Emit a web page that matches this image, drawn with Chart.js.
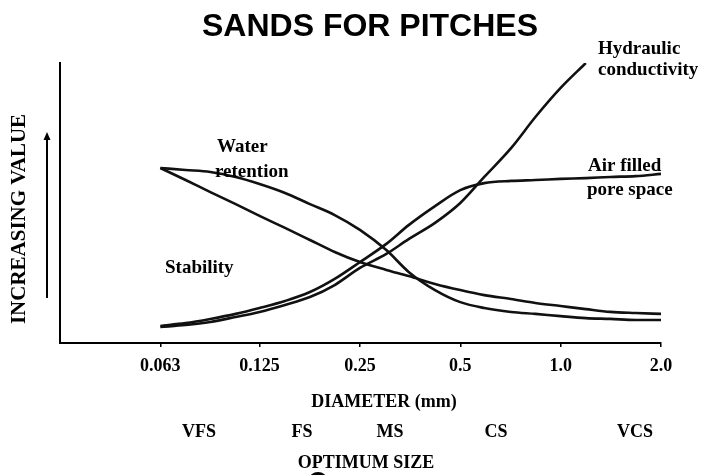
<!DOCTYPE html>
<html>
<head>
<meta charset="utf-8">
<script src="https://cdn.jsdelivr.net/npm/chart.js@4/dist/chart.umd.min.js"></script>
<style>
  body { margin: 0; background: #fff; }
  #wrap { width: 709px; height: 475px; }
</style>
</head>
<body>
<div id="wrap"><canvas id="myChart" width="709" height="475"></canvas></div>
<script>
// sieve diameters (mm), quarter-octave steps
const diameters = [0.063, 0.075, 0.089, 0.106, 0.125, 0.149, 0.177, 0.21, 0.25, 0.30, 0.35,
    0.42, 0.5, 0.59, 0.71, 0.84, 1.0, 1.19, 1.41, 1.68, 2.0];

// relative value (0 = bottom, 100 = top of axis)
const waterRetention = [62.5, 61.8, 61.1, 59.3, 56.8, 53.6, 49.6, 45.7, 40.4, 33.2, 25.4,
    18.9, 14.6, 12.5, 11.1, 10.4, 9.6, 8.9, 8.6, 8.2, 8.2];
const stability = [62.5, 58.2, 53.9, 49.6, 45.4, 41.1, 36.8, 32.5, 28.9, 26.1, 23.9,
    21.1, 18.9, 17.1, 15.7, 14.3, 13.2, 12.1, 11.1, 10.7, 10.4];
const airFilled = [6.1, 7.1, 8.6, 10.4, 12.5, 15.0, 18.2, 22.9, 28.9, 35.4, 42.1,
    48.9, 54.6, 57.1, 57.9, 58.2, 58.6, 58.9, 59.3, 59.6, 60.4];
const hydraulic = [5.7, 6.4, 7.5, 9.3, 11.1, 13.6, 16.4, 20.7, 26.8, 31.8, 37.1,
    42.9, 50.0, 59.3, 69.6, 80.7, 91.1, 100];

const tickValues = [0.063, 0.125, 0.25, 0.5, 1.0, 2.0];
const tickLabels = ['0.063', '0.125', '0.25', '0.5', '1.0', '2.0'];

const sizeClasses = ['VFS', 'FS', 'MS', 'CS', 'VCS'];

const serif = '"Liberation Serif", "DejaVu Serif", serif';

function toPoints(vals) {
    return vals.map((v, i) => ({ x: diameters[i], y: v }));
}

function lineSet(label, vals) {
    return {
        label: label,
        data: toPoints(vals),
        borderColor: '#111',
        borderWidth: 2.6,
        pointRadius: 0,
        fill: false,
        cubicInterpolationMode: 'monotone'
    };
}

// text and decorations around the plot
const annotations = {
    id: 'annotations',
    afterDraw(chart) {
        const ctx = chart.ctx;
        const area = chart.chartArea;
        ctx.save();
        ctx.fillStyle = '#000';
        ctx.strokeStyle = '#000';

        ctx.font = 'bold 32px "Liberation Sans", Arial, sans-serif';
        ctx.textAlign = 'center';
        ctx.textBaseline = 'middle';
        ctx.fillText('SANDS FOR PITCHES', 370, 27);

        // y title
        ctx.save();
        ctx.translate(area.left - 40, 219);
        ctx.rotate(-Math.PI / 2);
        ctx.font = 'bold 21px ' + serif;
        ctx.fillText('INCREASING VALUE', 0, 0);
        ctx.restore();

        // arrow
        ctx.lineWidth = 2;
        ctx.beginPath();
        ctx.moveTo(area.left - 13, 298);
        ctx.lineTo(area.left - 13, 138);
        ctx.stroke();
        ctx.beginPath();
        ctx.moveTo(area.left - 13, 132);
        ctx.lineTo(area.left - 16.5, 140);
        ctx.lineTo(area.left - 9.5, 140);
        ctx.closePath();
        ctx.fill();

        // curve labels
        ctx.font = 'bold 19px ' + serif;
        ctx.textAlign = 'left';
        ctx.textBaseline = 'alphabetic';
        ctx.fillText('Water', 217, 152);
        ctx.fillText('retention', 215, 177);
        ctx.fillText('Stability', 165, 273);
        ctx.fillText('Hydraulic', 598, 54);
        ctx.fillText('conductivity', 598, 75);
        ctx.fillText('Air filled', 588, 171);
        ctx.fillText('pore space', 587, 195);

        // bottom texts
        ctx.font = 'bold 18px ' + serif;
        ctx.textAlign = 'center';
        ctx.textBaseline = 'middle';
        ctx.fillText('DIAMETER (mm)', 384, 402);
        const classX = [199, 302, 390, 496, 635];
        sizeClasses.forEach((c, i) => ctx.fillText(c, classX[i], 432));
        ctx.fillText('OPTIMUM SIZE', 366, 463);

        ctx.beginPath();
        ctx.ellipse(318, 480, 9, 8, 0, 0, Math.PI * 2);
        ctx.fill();
        ctx.restore();
    }
};

const ctx = document.getElementById('myChart').getContext('2d');
const myChart = new Chart(ctx, {
    type: 'line',
    data: {
        datasets: [
            lineSet('Water retention', waterRetention),
            lineSet('Stability', stability),
            lineSet('Air filled pore space', airFilled),
            lineSet('Hydraulic conductivity', hydraulic)
        ]
    },
    options: {
        responsive: false,
        animation: false,
        layout: {
            padding: { left: 60, right: 48, top: 63, bottom: 92 }
        },
        plugins: {
            legend: { display: false },
            title: { display: false },
            tooltip: { enabled: false }
        },
        scales: {
            x: {
                type: 'logarithmic',
                min: 0.0315,
                max: 2.0,
                afterBuildTicks: (scale) => {
                    scale.ticks = tickValues.map(v => ({ value: v }));
                },
                afterFit: (scale) => { scale.height = 40; },
                grid: {
                    display: true,
                    drawOnChartArea: false,
                    drawTicks: true,
                    tickLength: 4,
                    color: '#000',
                    lineWidth: 1.5
                },
                border: { display: true, color: '#000', width: 2 },
                ticks: {
                    autoSkip: false,
                    maxRotation: 0,
                    padding: 9,
                    color: '#000',
                    font: { family: serif, size: 18, weight: 'bold' },
                    callback: (value, index) => tickLabels[index]
                }
            },
            y: {
                min: 0,
                max: 100,
                afterFit: (scale) => { scale.width = 0; },
                grid: { display: false },
                border: { display: true, color: '#000', width: 2 },
                ticks: { display: false }
            }
        }
    },
    plugins: [annotations]
});
</script>
</body>
</html>
